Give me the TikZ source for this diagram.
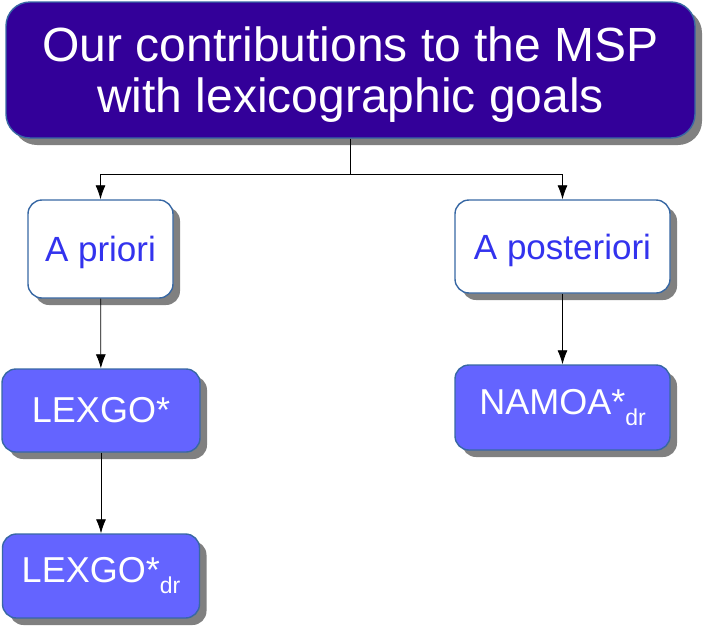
\documentclass[tikz,border=0pt]{standalone}
\usepackage{fontspec}
\setmainfont{Liberation Sans}
\usepackage{xcolor}
\usetikzlibrary{arrows.meta, shadows}
\definecolor{mydark}{RGB}{51,0,153}
\definecolor{myfill}{RGB}{100,100,255}
\definecolor{myedge}{RGB}{56,104,164}
\definecolor{mytext}{RGB}{51,51,238}

\tikzset{
  box/.style={draw=myedge, line width=1.4pt, rounded corners=14pt, align=center,
    drop shadow={shadow xshift=7pt, shadow yshift=-7pt, fill=gray, opacity=1}},
  headbox/.style={box, fill=mydark, text=white, rounded corners=24pt, text depth=0pt,
    font=\fontsize{48}{51}\selectfont},
  kindbox/.style={box, fill=white, text=mytext, text depth=0pt, font=\fontsize{35}{38}\selectfont},
  algobox/.style={box, fill=myfill, text=white, font=\fontsize{36}{40}\selectfont},
  link/.style={-{Latex[length=14pt,width=10pt]}, line width=0.8pt}
}
\newcommand{\dr}{\raisebox{-11pt}{\fontsize{23}{23}\selectfont dr}}

\begin{document}
\begin{tikzpicture}[x=1pt, y=-1pt]
\useasboundingbox (0,0) rectangle (705,627);

% boxes
\node[headbox, minimum width=689pt, minimum height=136pt] (head) at (350.5,70)
  {Our contributions to the MSP\\with lexicographic goals};
\node[kindbox, minimum width=145pt, minimum height=98pt] (apriori) at (100.5,249) {A priori};
\node[kindbox, minimum width=215pt, minimum height=93pt] (aposteriori) at (562.5,246.5) {A posteriori};
\node[algobox, minimum width=198pt, minimum height=83pt] (lexgo) at (101,410.5) {LEXGO*};
\node[algobox, minimum width=197pt, minimum height=84pt] (lexgodr) at (101,576) {LEXGO*\dr};
\node[algobox, minimum width=215pt, minimum height=85pt] (namoa) at (562.5,407.5) {NAMOA*\dr};

% connectors
\coordinate (split) at (350.5,174);
\draw[line width=0.8pt] (head) -- (split);
\draw[link] (split) -| (apriori);
\draw[link] (split) -| (aposteriori);
\draw[link] (apriori) -- (lexgo);
\draw[link] (lexgo) -- (lexgodr);
\draw[link] (aposteriori) -- (namoa);
\end{tikzpicture}
\end{document}
